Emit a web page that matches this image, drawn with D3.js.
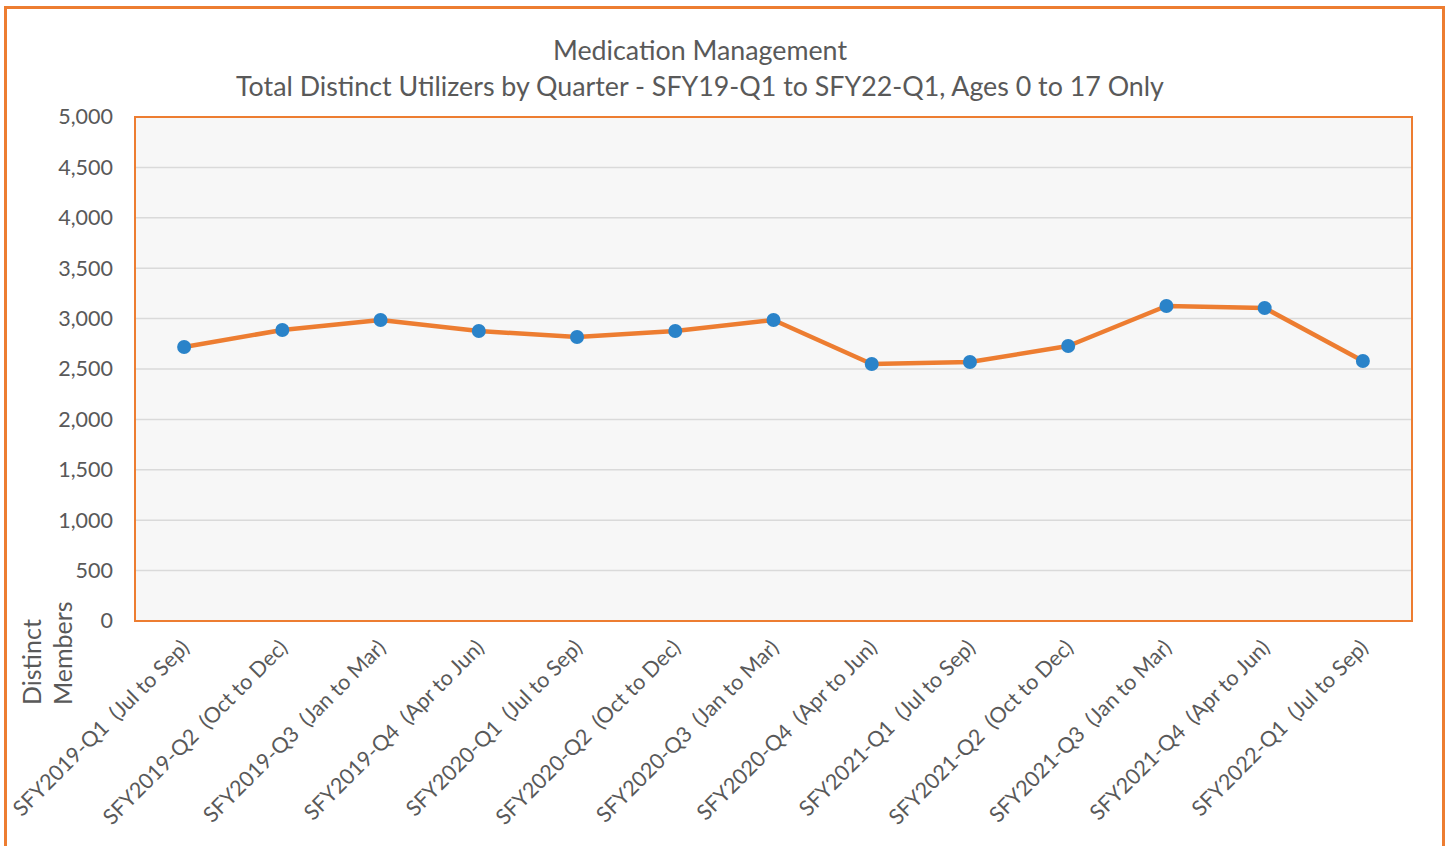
<!DOCTYPE html>
<html>
<head>
<meta charset="utf-8">
<script src="https://cdn.jsdelivr.net/npm/d3@7"></script>
<style>
  body { margin: 0; background: #fff; }
  svg { display: block; }
  text { font-family: Lato, "Open Sans", sans-serif; fill: #595959; }
</style>
</head>
<body>
<svg id="chart"></svg>
<script>
// quarters along the x axis
const quarters = [
    'SFY2019-Q1\u00a0\u00a0(Jul to Sep)', 'SFY2019-Q2\u00a0\u00a0(Oct to Dec)', 'SFY2019-Q3\u00a0\u00a0(Jan to Mar)',
    'SFY2019-Q4\u00a0\u00a0(Apr to Jun)', 'SFY2020-Q1\u00a0\u00a0(Jul to Sep)', 'SFY2020-Q2\u00a0\u00a0(Oct to Dec)',
    'SFY2020-Q3\u00a0\u00a0(Jan to Mar)', 'SFY2020-Q4\u00a0\u00a0(Apr to Jun)', 'SFY2021-Q1\u00a0\u00a0(Jul to Sep)',
    'SFY2021-Q2\u00a0\u00a0(Oct to Dec)', 'SFY2021-Q3\u00a0\u00a0(Jan to Mar)', 'SFY2021-Q4\u00a0\u00a0(Apr to Jun)',
    'SFY2022-Q1\u00a0\u00a0(Jul to Sep)'
];
const utilizers = [2718, 2887, 2986, 2877, 2817, 2877, 2986, 2550, 2569, 2728, 3125, 3105, 2579];
const yTicks = [0, 500, 1000, 1500, 2000, 2500, 3000, 3500, 4000, 4500, 5000];
const titleLines = ['Medication Management', 'Total Distinct Utilizers by Quarter - SFY19-Q1 to SFY22-Q1, Ages 0 to 17 Only'];
const yTitle = ['Distinct', 'Members'];

const width = 1449, height = 846;
const orange = '#ED7D31', blue = '#2A83C9';
const plot = { left: 135, right: 1412, top: 117, bottom: 621 };

const svg = d3.select('#chart').attr('width', width).attr('height', height);

// outer frame
svg.append('rect')
    .attr('x', 5.5).attr('y', 7.5)
    .attr('width', 1438).attr('height', 860)
    .attr('fill', '#fff')
    .attr('stroke', orange).attr('stroke-width', 3);

const x = d3.scalePoint()
    .domain(quarters)
    .range([plot.left, plot.right])
    .padding(0.5);

const y = d3.scaleLinear()
    .domain([0, 5000])
    .range([plot.bottom, plot.top]);

// plot background
svg.append('rect')
    .attr('x', plot.left).attr('y', plot.top)
    .attr('width', plot.right - plot.left).attr('height', plot.bottom - plot.top)
    .attr('fill', '#f7f7f7');

// gridlines
svg.append('g')
    .selectAll('line')
    .data(yTicks.filter(d => d > 0 && d < 5000))
    .enter()
    .append('line')
    .attr('x1', plot.left).attr('x2', plot.right)
    .attr('y1', d => y(d)).attr('y2', d => y(d))
    .attr('stroke', '#dadada').attr('stroke-width', 1.5);

svg.append('rect')
    .attr('x', plot.left).attr('y', plot.top)
    .attr('width', plot.right - plot.left).attr('height', plot.bottom - plot.top)
    .attr('fill', 'none')
    .attr('stroke', orange).attr('stroke-width', 2);

// y axis labels
const yAxis = svg.append('g')
    .attr('transform', `translate(${plot.left - 22},0)`)
    .call(d3.axisLeft(y).tickValues(yTicks).tickSize(0).tickPadding(0).tickFormat(d3.format(',')));
yAxis.select('.domain').remove();
yAxis.selectAll('text')
    .style('font-size', '21.5px')
    .attr('fill', '#595959')
    .style('font-family', 'Lato, sans-serif');

// x axis labels, rotated
const xAxis = svg.append('g')
    .attr('transform', `translate(0,${plot.bottom})`)
    .call(d3.axisBottom(x).tickSize(0).tickPadding(0));
xAxis.select('.domain').remove();
xAxis.selectAll('text')
    .style('font-size', '21.5px')
    .style('font-family', 'Lato, sans-serif')
    .attr('fill', '#595959')
    .attr('text-anchor', 'end')
    .attr('dy', 0)
    .attr('transform', 'translate(6,28) rotate(-45)');

// line
svg.append('path')
    .datum(utilizers)
    .attr('fill', 'none')
    .attr('stroke', orange)
    .attr('stroke-width', 4.5)
    .attr('stroke-linejoin', 'round')
    .attr('d', d3.line().x((d, i) => x(quarters[i])).y(d => y(d)));

// markers
svg.append('g')
    .selectAll('circle')
    .data(utilizers)
    .enter()
    .append('circle')
    .attr('cx', (d, i) => x(quarters[i]))
    .attr('cy', d => y(d))
    .attr('r', 7)
    .attr('fill', blue);

// title
svg.append('g')
    .selectAll('text')
    .data(titleLines)
    .enter()
    .append('text')
    .attr('x', 700)
    .attr('y', (d, i) => 60 + i * 36)
    .attr('text-anchor', 'middle')
    .style('font-size', '26.8px')
    .text(d => d);

// y axis title
svg.append('g')
    .selectAll('text')
    .data(yTitle)
    .enter()
    .append('text')
    .attr('transform', (d, i) => `translate(${41 + i * 31},705) rotate(-90)`)
    .attr('text-anchor', 'start')
    .style('font-size', '25px')
    .text(d => d);
</script>
</body>
</html>
